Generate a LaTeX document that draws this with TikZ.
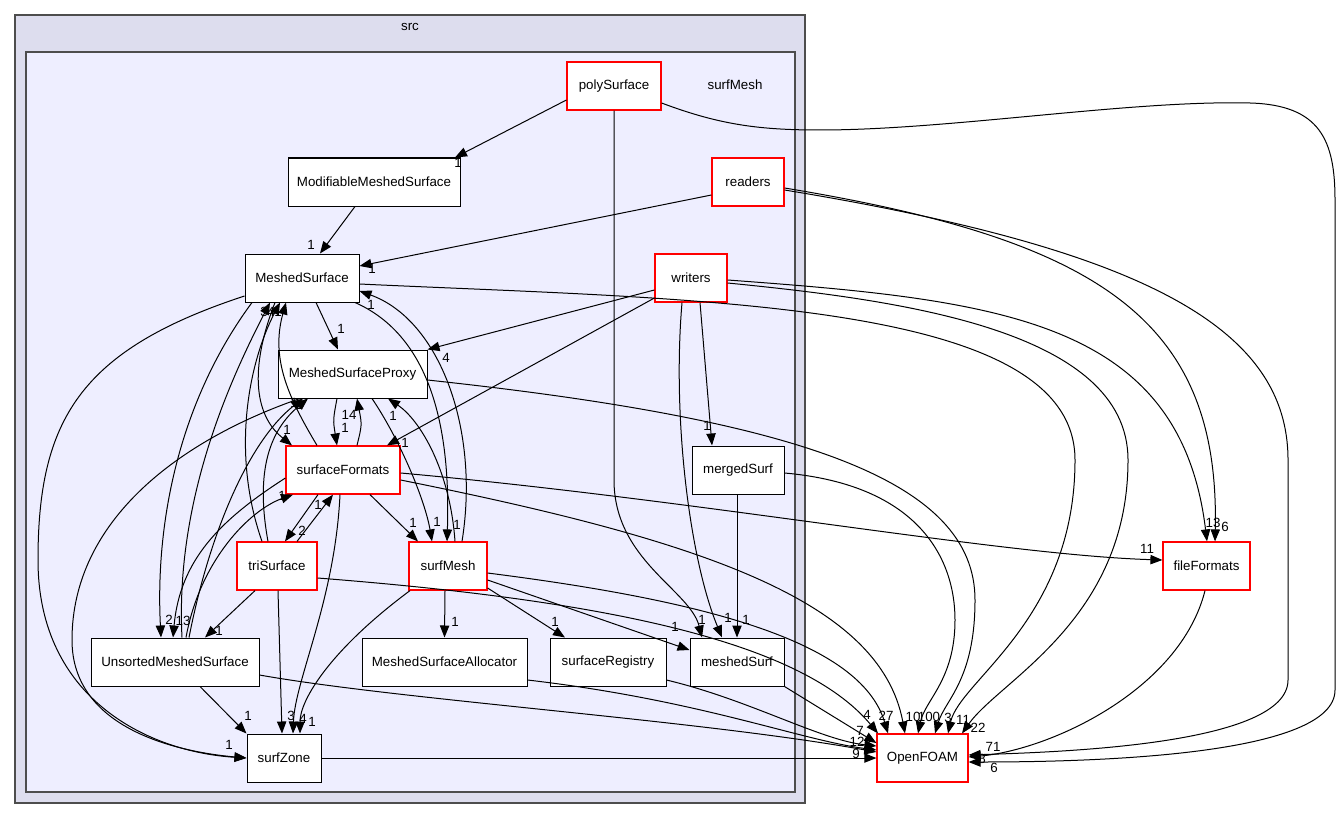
\documentclass[tikz,border=0pt]{standalone}
\usepackage{fontspec}
\setmainfont{Liberation Sans}
\usetikzlibrary{arrows.meta,calc}

\definecolor{srcfill}{HTML}{DDDDEE}
\definecolor{meshfill}{HTML}{EEEEFF}
\definecolor{clusterline}{HTML}{4D4D4D}

\tikzset{
  dirbox/.style={draw=black, fill=white, line width=0.75pt, minimum height=36pt, inner sep=0pt, font=\fontsize{10}{12}\selectfont},
  reddir/.style={dirbox, draw=red, line width=0.9pt},
  dep/.style={line width=0.75pt, -{Triangle[length=9pt,width=7pt]}},
  lbl/.style={font=\fontsize{10}{12}\selectfont, inner sep=0pt},
}

\begin{document}
\begin{tikzpicture}[x=0.75pt, y=-0.75pt]
\useasboundingbox (0,0) rectangle (1344,820);

% Clusters
\draw[clusterline, fill=srcfill, line width=1pt] (15,15) rectangle (805,803);
\node[lbl] (srclabel) at (410,27) {src};
\draw[clusterline, fill=meshfill, line width=1pt] (26,52) rectangle (795,792);
\node[lbl] (meshlabel) at (735,85) {surfMesh};

% Directories
\node[reddir, minimum width=70.5pt] (poly) at (614,86) {polySurface};
\node[dirbox, minimum width=129pt] (mod) at (374,182) {ModifiableMeshedSurface};
\node[reddir, minimum width=54pt] (readers) at (748,182) {readers};
\node[dirbox, minimum width=85.5pt] (ms) at (302,278) {MeshedSurface};
\node[reddir, minimum width=54pt] (writers) at (691,278) {writers};
\node[dirbox, minimum width=111.75pt] (msp) at (352.5,374) {MeshedSurfaceProxy};
\node[reddir, minimum width=85.5pt] (sf) at (343,470) {surfaceFormats};
\node[dirbox, minimum width=69pt] (merged) at (738,470) {mergedSurf};
\node[reddir, minimum width=60pt] (tri) at (277,566) {triSurface};
\node[reddir, minimum width=58.5pt] (surfmesh) at (448,566) {surfMesh};
\node[reddir, minimum width=65.25pt] (fileformats) at (1206.5,566) {fileFormats};
\node[dirbox, minimum width=126pt] (ums) at (175,662) {UnsortedMeshedSurface};
\node[dirbox, minimum width=123.75pt] (alloc) at (444.5,662) {MeshedSurfaceAllocator};
\node[dirbox, minimum width=87pt] (registry) at (608,662) {surfaceRegistry};
\node[dirbox, minimum width=70.5pt] (meshedsurf) at (737,662) {meshedSurf};
\node[dirbox, minimum width=55.5pt] (zone) at (284,758) {surfZone};
\node[reddir, minimum width=68.25pt] (foam) at (922.5,758) {OpenFOAM};

% polySurface
\draw[dep] ($(poly.west)+(0,14)$) -- ($(mod.north)+(81,0)$);
\draw[dep] (poly.south) -- (614,480) .. controls (614,560) and (690,590) .. ($(meshedsurf.north)+(-35,0)$);
\draw[dep] ($(poly.east)+(0,17)$) .. controls (720,125) and (760,130) .. (820,130) .. controls (950,130) and (1130,100) .. (1250,103) .. controls (1320,105) and (1335,140) .. (1335,200) -- (1335,690) .. controls (1335,755) and (1100,762) .. ($(foam.east)+(0,4)$);

% readers
\draw[dep] ($(readers.west)+(0,13)$) -- ($(ms.east)+(0,-12)$);
\draw[dep] ($(readers.east)+(0,6)$) .. controls (1100,240) and (1220,320) .. ($(fileformats.north)+(8.5,0)$);
\draw[dep] ($(readers.east)+(0,8)$) .. controls (1150,250) and (1288,330) .. (1288,460) -- (1288,680) .. controls (1288,745) and (1060,752) .. ($(foam.east)+(0,-3)$);

% writers
\draw[dep] ($(writers.west)+(0,12)$) -- (msp.north east);
\draw[dep] ($(writers.west)+(0,20)$) -- ($(sf.north)+(44,0)$);
\draw[dep] ($(writers.south)+(-9,0)$) .. controls (672,420) and (690,560) .. ($(meshedsurf.north)+(-15,0)$);
\draw[dep] ($(writers.south)+(9,0)$) -- ($(merged.north)+(-26,0)$);
\draw[dep] ($(writers.east)+(0,2)$) .. controls (1000,300) and (1180,320) .. ($(fileformats.north)+(0.5,0)$);
\draw[dep] ($(writers.east)+(0,5)$) .. controls (900,300) and (1128,330) .. (1128,460) .. controls (1128,620) and (1000,680) .. ($(foam.north)+(39.5,0)$);

% ModifiableMeshedSurface
\draw[dep] ($(mod.south)+(-19,0)$) -- ($(ms.north)+(18,0)$);

% MeshedSurface
\draw[dep] ($(ms.south)+(14,0)$) -- ($(msp.north)+(-14.5,0)$);
\draw[dep] ($(ms.east)+(0,6)$) .. controls (700,300) and (1075,300) .. (1075,460) .. controls (1075,620) and (960,680) .. ($(foam.north)+(25.5,0)$);
\draw[dep] ($(ms.west)+(0,18)$) .. controls (80,350) and (38,420) .. (38,560) .. controls (38,700) and (150,752) .. (zone.west);
\draw[dep] ($(ms.south)+(-50,0)$) .. controls (180,400) and (155,520) .. ($(ums.north)+(-14,0)$);
\draw[dep] ($(ms.south)+(-27,0)$) .. controls (245,380) and (260,420) .. ($(sf.north)+(-51,0)$);
\draw[dep] ($(ms.south)+(53,0)$) .. controls (440,340) and (450,450) .. ($(surfmesh.north)+(-1,0)$);

% MeshedSurfaceProxy
\draw[dep] ($(msp.south)+(-15.5,0)$) .. controls (333,420) .. ($(sf.north)+(-6,0)$);
\draw[dep] ($(msp.south)+(19.5,0)$) .. controls (400,440) and (425,500) .. ($(surfmesh.north)+(-16,0)$);
\draw[dep] ($(msp.south)+(-52.5,0)$) .. controls (180,440) and (72,520) .. (72,640) .. controls (72,730) and (180,752) .. (zone.west);
\draw[dep] ($(msp.east)+(0,6)$) .. controls (800,420) and (975,480) .. (975,600) .. controls (975,680) and (945,700) .. ($(foam.north)+(12.5,0)$);

% surfaceFormats
\draw[dep] ($(sf.north)+(14,0)$) .. controls (362,425) .. ($(msp.south)+(4.5,0)$);
\draw[dep] ($(sf.north)+(-26,0)$) .. controls (290,400) and (270,360) .. ($(ms.south)+(-16,0)$);
\draw[dep] ($(sf.south)+(-25,0)$) -- ($(tri.north)+(8,0)$);
\draw[dep] ($(sf.south)+(27,0)$) -- ($(surfmesh.north)+(-30,0)$);
\draw[dep] ($(sf.south)+(-3,0)$) .. controls (335,600) and (295,680) .. ($(zone.north)+(9,0)$);
\draw[dep] ($(sf.west)+(0,8)$) .. controls (220,520) and (180,560) .. ($(ums.north)+(-2,0)$);
\draw[dep] ($(sf.east)+(0,3)$) .. controls (700,500) and (1000,555) .. ($(fileformats.west)+(0,-6)$);
\draw[dep] ($(sf.east)+(0,10)$) .. controls (700,540) and (880,600) .. ($(foam.north)+(-17.5,0)$);

% triSurface
\draw[dep] ($(tri.north)+(20,0)$) -- ($(sf.south)+(-10,0)$);
\draw[dep] ($(tri.north)+(-15,0)$) .. controls (230,450) and (250,360) .. ($(ms.south)+(-22,0)$);
\draw[dep] ($(tri.north)+(-9,0)$) .. controls (255,470) and (270,430) .. ($(msp.south)+(-44.5,0)$);
\draw[dep] ($(tri.south)+(-22,0)$) -- ($(ums.north)+(30,0)$);
\draw[dep] ($(tri.south)+(1,0)$) -- ($(zone.north)+(-2,0)$);
\draw[dep] ($(tri.east)+(0,12)$) .. controls (600,600) and (800,640) .. ($(foam.north)+(-44.5,0)$);

% surfMesh
\draw[dep] ($(surfmesh.north)+(14,0)$) .. controls (480,430) and (440,320) .. ($(ms.east)+(0,13)$);
\draw[dep] ($(surfmesh.north)+(7,0)$) .. controls (450,470) and (420,420) .. ($(msp.south)+(35.5,0)$);
\draw[dep] ($(surfmesh.south)+(-3,0)$) -- (alloc.north);
\draw[dep] ($(surfmesh.east)+(0,22)$) -- ($(registry.north)+(-43,0)$);
\draw[dep] ($(surfmesh.east)+(0,14)$) -- ($(meshedsurf.west)+(0,-12)$);
\draw[dep] ($(surfmesh.south)+(-38,0)$) .. controls (330,650) and (300,700) .. ($(zone.north)+(16,0)$);
\draw[dep] ($(surfmesh.east)+(0,7)$) .. controls (700,600) and (860,640) .. ($(foam.north)+(-34.5,0)$);

% UnsortedMeshedSurface
\draw[dep] ($(ums.north)+(7,0)$) .. controls (175,500) and (230,380) .. ($(ms.south)+(-32,0)$);
\draw[dep] ($(ums.north)+(14,0)$) .. controls (210,530) and (250,440) .. ($(msp.south)+(-49.5,0)$);
\draw[dep] ($(ums.north)+(11,0)$) .. controls (200,560) and (250,510) .. ($(sf.south)+(-50,0)$);
\draw[dep] ($(ums.south)+(25,0)$) -- (zone.north west);
\draw[dep] ($(ums.east)+(0,13)$) .. controls (400,700) and (700,720) .. ($(foam.west)+(0,-6)$);

% the rest
\draw[dep] ($(alloc.east)+(0,18)$) .. controls (700,700) and (800,740) .. ($(foam.west)+(0,-8)$);
\draw[dep] ($(registry.east)+(0,18)$) .. controls (750,700) and (820,740) .. ($(foam.west)+(0,-12)$);
\draw[dep] (meshedsurf.south east) -- ($(foam.west)+(0,-15)$);
\draw[dep] ($(merged.south)+(-1,0)$) -- (meshedsurf.north);
\draw[dep] ($(merged.east)+(0,3)$) .. controls (920,485) and (955,560) .. (955,620) .. controls (955,680) and (925,700) .. ($(foam.north)+(-4.5,0)$);
\draw[dep] (zone.east) -- (foam.west);
\draw[dep] ($(fileformats.south)+(-1.5,0)$) .. controls (1180,690) and (1050,750) .. ($(foam.east)+(0,-1)$);

% Edge labels
\node[lbl] (l-poly-mod) at (458,163) {1};
\node[lbl] (l-poly-msurf) at (702,620) {1};
\node[lbl] (l-wr-msurf) at (728,618) {1};
\node[lbl] (l-mg-msurf) at (746,620) {1};
\node[lbl] (l-sm-msurf) at (675,627) {1};
\node[lbl] (l-rd-ms) at (372,269) {1};
\node[lbl] (l-rd-ff) at (1225,527) {6};
\node[lbl] (l-wr-ff) at (1213,523) {13};
\node[lbl] (l-rd-foam) at (993,747) {71};
\node[lbl] (l-ff-foam) at (982,759) {8};
\node[lbl] (l-poly-foam) at (994,768) {6};
\node[lbl] (l-wr-msp) at (446,358) {4};
\node[lbl] (l-wr-sf) at (405,443) {1};
\node[lbl] (l-wr-mg) at (707,426) {1};
\node[lbl] (l-wr-foam) at (978,728) {22};
\node[lbl] (l-mod-ms) at (311,245) {1};
\node[lbl] (l-ms-msp) at (341,329) {1};
\node[lbl] (l-ms-foam) at (963,720) {11};
\node[lbl] (l-ms-zone) at (229,745) {1};
\node[lbl] (l-ms-ums) at (169,620) {2};
\node[lbl] (l-ms-sf) at (287,430) {1};
\node[lbl] (l-ms-sm) at (457,525) {1};
\node[lbl] (l-msp-sf) at (345,428) {1};
\node[lbl] (l-sf-msp) at (349,415) {14};
\node[lbl] (l-msp-sm) at (437,522) {1};
\node[lbl] (l-msp-foam) at (948,718) {3};
\node[lbl] (l-ums-msp) at (294,403) {1};
\node[lbl] (l-tri-msp) at (299,405) {1};
\node[lbl] (l-ums-ms) at (264,312) {3};
\node[lbl] (l-tri-ms) at (271,312) {4};
\node[lbl] (l-sf-ms) at (278,312) {1};
\node[lbl] (l-sm-ms) at (371,305) {1};
\node[lbl] (l-sm-msp) at (393,416) {1};
\node[lbl] (l-sf-tri) at (302,531) {2};
\node[lbl] (l-tri-sf) at (318,505) {1};
\node[lbl] (l-sf-sm) at (413,523) {1};
\node[lbl] (l-tri-zone) at (291,716) {3};
\node[lbl] (l-sf-zone) at (303,719) {4};
\node[lbl] (l-sm-zone) at (312,722) {1};
\node[lbl] (l-sf-ums) at (183,621) {13};
\node[lbl] (l-ums-sf) at (282,496) {1};
\node[lbl] (l-sf-ff) at (1147,549) {11};
\node[lbl] (l-sf-foam) at (913,717) {10};
\node[lbl] (l-tri-ums) at (219,631) {1};
\node[lbl] (l-tri-foam) at (867,715) {4};
\node[lbl] (l-sm-alloc) at (455,622) {1};
\node[lbl] (l-sm-reg) at (555,622) {1};
\node[lbl] (l-sm-foam) at (886,716) {27};
\node[lbl] (l-ums-zone) at (248,716) {1};
\node[lbl] (l-mg-foam) at (929,717) {100};
\node[lbl] (l-msurf-foam) at (860,731) {7};
\node[lbl] (l-reg-foam) at (857,742) {12};
\node[lbl] (l-alloc-foam) at (856,754) {9};

\end{tikzpicture}
\end{document}
